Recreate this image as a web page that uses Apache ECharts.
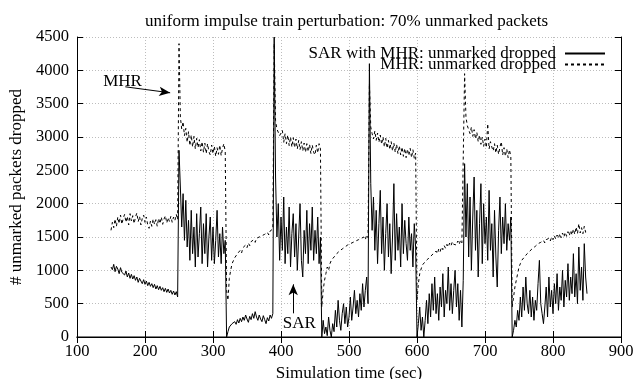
<!DOCTYPE html>
<html>
<head>
<meta charset="utf-8">
<script src="https://cdn.jsdelivr.net/npm/echarts@6/dist/echarts.min.js"></script>
<style>
  html, body { margin: 0; padding: 0; background: #fff; }
  #chart { width: 636px; height: 379px; }
</style>
</head>
<body>
<div id="chart"></div>
<script>
// each segment starts at the time listed here, samples every 2 sec
const segStarts = [150, 250, 320, 390, 460, 530, 600, 670, 740]
const sampleStep = 2

// SAR with MHR: unmarked dropped (solid)
const sarA = [1050,1010,1090,980,1060,1020,950,1040,970,1000,930,990,900,960,880,940,870,920,850,900,820,880,840,800,860,790,840,770,820,760,800,740,790,720,770,710,760,700,740,680,730,670,720,660,700,640,690,630,680,600]
const sarB = [2800,2250,1650,2150,1450,2050,1350,1750,1150,1900,1250,1650,1050,1850,1200,1550,1950,1100,1700,1250,1850,1050,1500,1800,1150,1650,1100,1450,1900,1200,1550,1100,1650,1250,1450]
const sarC = [0,80,150,120,200,170,230,190,260,210,280,230,300,250,330,270,220,310,260,350,280,380,300,250,330,270,230,320,260,200,290,240,330,280,350]
const sarD = [4500,2400,1500,2000,1150,1800,1300,2100,1100,1650,1250,1950,1050,1550,1850,1200,1700,1000,1500,2000,1150,900,1600,1250,1900,1100,1700,1300,1950,1150,1600,1250,1800,1100,1500]
const sarE = [0,250,50,150,20,300,100,0,200,80,400,150,550,250,100,350,500,200,450,150,300,600,250,450,700,350,550,300,650,400,800,450,700,900,500]
const sarF = [4100,2300,1600,2100,1300,1900,1100,1700,2200,1250,1800,1000,1550,2000,1200,1700,950,1500,2300,1150,1850,1300,1650,1050,2000,1250,1750,1400,1150,1800,1300,1550,1050,1700,1350]
const sarG = [0,200,450,100,300,0,250,550,200,650,300,800,400,900,350,650,250,750,450,950,300,700,500,1050,400,800,350,700,1000,450,800,250,700,150,850]
const sarH = [2600,1500,2300,1200,2100,1000,1800,2400,1300,1900,900,1700,2300,1100,2000,1400,1800,1150,2200,1300,1700,900,1900,1200,750,1600,2100,1250,1800,1400,2000,1300,1700,1450,1800]
const sarI = [0,100,250,150,400,250,600,300,750,400,900,500,350,700,300,600,250,550,400,800,1150,500,350,200,450,750,300,900,450,700,350,800,500,950,400,750,550,1000,450,850,600,1100,550,900,650,1250,600,950,500,1350,700,1050,550,1400,900,650]

// MHR: unmarked dropped (dashed)
const mhrA = [1600,1720,1640,1770,1660,1800,1700,1830,1690,1780,1840,1720,1810,1680,1850,1740,1820,1700,1800,1860,1730,1810,1680,1780,1830,1720,1800,1680,1630,1740,1660,1770,1690,1760,1660,1780,1700,1800,1690,1770,1820,1710,1790,1730,1810,1720,1800,1750,1840,1760]
const mhrB = [4400,3300,3120,3230,3020,3130,2920,3080,2870,3030,2850,3010,2820,2980,2840,2960,2790,2930,2770,2910,2750,2900,2780,2730,2880,2750,2860,2710,2840,2740,2880,2720,2830,2900,2780]
const mhrC = [700,550,880,1000,1100,1080,1190,1160,1250,1220,1300,1260,1340,1310,1380,1340,1410,1370,1430,1400,1460,1420,1480,1450,1500,1470,1520,1490,1540,1510,1570,1530,1590,1560,1620]
const mhrD = [4400,3250,3120,3130,3020,3030,3100,2920,3050,2900,3030,2870,3000,2850,2990,2840,2970,2820,2950,2810,2930,2790,2910,2770,2900,2780,2890,2750,2880,2770,2730,2880,2760,2900,2820]
const mhrE = [450,700,850,950,1050,1000,1100,1150,1120,1200,1170,1250,1220,1290,1260,1320,1290,1350,1320,1380,1350,1400,1370,1420,1390,1440,1410,1460,1430,1480,1450,1500,1460,1530,1490]
const mhrF = [3800,3150,3050,2970,3090,2950,3060,2920,3030,2890,3000,2850,2980,2830,2950,2810,2930,2790,2910,2770,2890,2750,2870,2730,2850,2710,2830,2690,2820,2720,2830,2690,2810,2680,2760]
const mhrG = [550,800,950,1020,1080,1060,1130,1100,1170,1140,1210,1180,1250,1220,1290,1250,1320,1280,1350,1310,1370,1330,1390,1350,1410,1370,1430,1390,1420,1380,1440,1390,1450,1410,1440]
const mhrH = [3950,3300,3170,3180,3050,3150,3010,3110,2970,3070,2930,3030,2890,3000,2860,2970,2840,3200,2820,2930,2850,2790,2900,2760,2880,2740,2850,2930,2730,2840,2710,2820,2690,2810,2700]
const mhrI = [450,600,750,850,950,1050,1100,1150,1120,1200,1180,1250,1220,1290,1260,1330,1300,1360,1330,1400,1370,1420,1390,1450,1410,1460,1430,1480,1440,1500,1460,1520,1470,1530,1480,1550,1490,1560,1500,1570,1510,1580,1520,1600,1530,1620,1540,1650,1550,1700,1560,1640,1550,1660,1570,1600]

const xTicks = { min: 100, max: 900, step: 100 }
const yTicks = { min: 0, max: 4500, step: 500 }

// annotations, data coords
const noteLabels = [
  { name: 'MHR', coord: [167, 3830] },
  { name: 'SAR', coord: [427, 195] }
]
const noteArrows = [
  [[171, 3753], [237, 3663]],
  [[418, 355], [418, 790]]
]

const SAR_NAME = 'SAR with MHR: unmarked dropped'
const MHR_NAME = 'MHR: unmarked dropped'
const FONT = '"Liberation Serif", "DejaVu Serif", serif'

const toPoints = (segs) => segs.flatMap((seg, k) => seg.map((v, i) => [segStarts[k] + i * sampleStep, v]))

const sarData = toPoints([sarA, sarB, sarC, sarD, sarE, sarF, sarG, sarH, sarI])
const mhrData = toPoints([mhrA, mhrB, mhrC, mhrD, mhrE, mhrF, mhrG, mhrH, mhrI])

const gridLine = { show: true, lineStyle: { color: '#bdbdbd', width: 1, type: [1, 2] } }
const axisLine = { show: true, lineStyle: { color: '#000', width: 1 } }
const tickIn = { show: true, inside: true, length: 6, lineStyle: { color: '#000' } }

const makeX = (pos, withLabels) => ({
  type: 'value',
  position: pos,
  min: xTicks.min, max: xTicks.max, interval: xTicks.step,
  axisLine: withLabels ? { show: true, lineStyle: { color: '#555', width: 1.5 } } : axisLine,
  axisTick: tickIn,
  axisLabel: { show: withLabels, color: '#000', fontFamily: FONT, fontSize: 16.5, margin: 6, formatter: v => String(v) },
  splitLine: withLabels ? gridLine : { show: false },
  name: withLabels ? 'Simulation time (sec)' : '',
  nameLocation: 'middle', nameGap: 21,
  nameTextStyle: { color: '#000', fontFamily: FONT, fontSize: 17 }
})

const makeY = (pos, withLabels) => ({
  type: 'value',
  position: pos,
  min: yTicks.min, max: yTicks.max, interval: yTicks.step,
  axisLine, axisTick: tickIn,
  axisLabel: { show: withLabels, color: '#000', fontFamily: FONT, fontSize: 16.5, margin: 8, formatter: v => String(v) },
  splitLine: withLabels ? gridLine : { show: false },
  name: withLabels ? '# unmarked packets dropped' : '',
  nameLocation: 'middle', nameGap: 50, nameRotate: 90,
  nameTextStyle: { color: '#000', fontFamily: FONT, fontSize: 17 }
})

const makeLegend = (name, top) => ({
  data: [name],
  right: 30, top,
  align: 'right',
  itemWidth: 40, itemHeight: 16,
  padding: 0,
  selectedMode: false,
  itemStyle: { opacity: 0 },
  textStyle: { color: '#000', fontFamily: FONT, fontSize: 17, padding: [0, 4, 0, 0] }
})

const chart = echarts.init(document.getElementById('chart'), null, { renderer: 'canvas' })

chart.setOption({
  animation: false,
  backgroundColor: '#fff',
  title: {
    text: 'uniform impulse train perturbation: 70% unmarked packets',
    left: 140, top: 8,
    textStyle: { color: '#000', fontFamily: FONT, fontSize: 17, fontWeight: 'normal' }
  },
  legend: [makeLegend(SAR_NAME, 45), makeLegend(MHR_NAME, 56)],
  grid: { left: 77, right: 15, top: 37, bottom: 42, outerBoundsMode: 'none', containLabel: false },
  xAxis: [makeX('bottom', true), makeX('top', false)],
  yAxis: [makeY('left', true), makeY('right', false)],
  series: [
    {
      name: SAR_NAME,
      type: 'line',
      data: sarData,
      symbol: 'none',
      lineStyle: { color: '#000', width: 1 },
      itemStyle: { color: '#000' },
      z: 3,
      markLine: {
        silent: true,
        symbol: ['none', 'arrow'],
        symbolSize: [7, 11],
        label: { show: false },
        lineStyle: { color: '#000', width: 1, type: 'solid' },
        data: noteArrows.map(a => [{ coord: a[0] }, { coord: a[1] }])
      },
      markPoint: {
        silent: true,
        symbol: 'rect',
        symbolSize: 1,
        itemStyle: { color: 'rgba(0,0,0,0)' },
        label: { show: true, position: 'inside', color: '#000', fontFamily: FONT, fontSize: 17, formatter: p => p.name },
        data: noteLabels.map(n => ({ name: n.name, coord: n.coord }))
      }
    },
    {
      name: MHR_NAME,
      type: 'line',
      data: mhrData,
      symbol: 'none',
      lineStyle: { color: '#000', width: 1, type: [3, 3] },
      itemStyle: { color: '#000' },
      z: 2
    }
  ]
})
</script>
</body>
</html>
